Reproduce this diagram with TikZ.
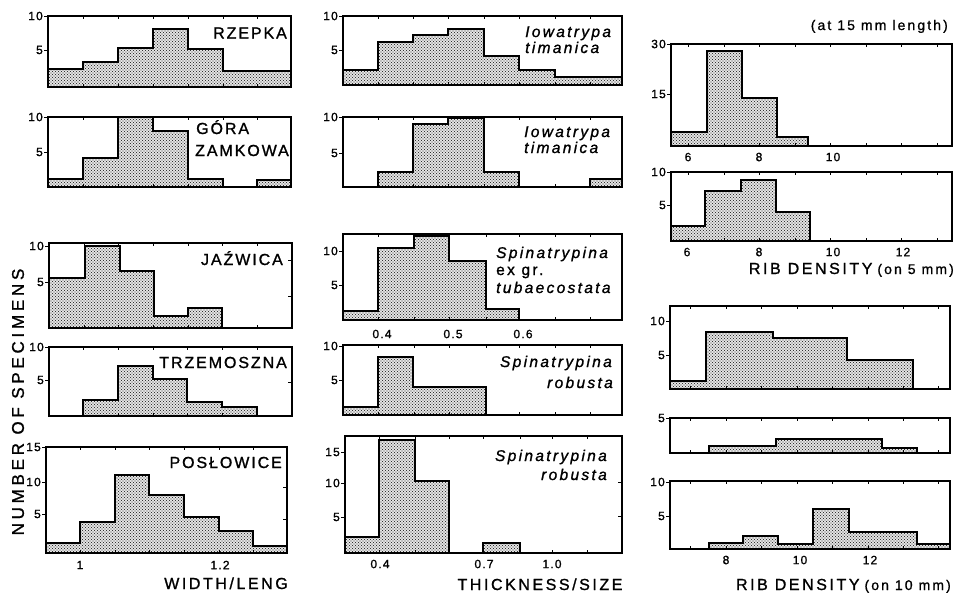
\documentclass[tikz,border=0pt]{standalone}
\usepackage{fontspec}
\setmainfont{Liberation Sans}
\newfontfamily\capfont[LetterSpace=12, FakeBold=1.2]{Liberation Sans}
\newfontfamily\axfont[LetterSpace=16, FakeBold=1.2]{Liberation Sans}
\newfontfamily\spfont[LetterSpace=15, FakeBold=1.2]{Liberation Sans}
\newfontfamily\smfont[LetterSpace=15, FakeBold=1]{Liberation Sans}
\newfontfamily\numfont[LetterSpace=10, FakeBold=1.2]{Liberation Sans}
\newfontfamily\nosfont[LetterSpace=22, FakeBold=1.2]{Liberation Sans}
\usetikzlibrary{patterns}
\pgfdeclarepatternformonly{fdots}{\pgfqpoint{-1pt}{-1pt}}{\pgfqpoint{2.5pt}{2.5pt}}{\pgfqpoint{3pt}{3pt}}{\pgfpathcircle{\pgfpointorigin}{0.6pt}\pgfpathcircle{\pgfqpoint{1.5pt}{1.5pt}}{0.6pt}\pgfusepath{fill}}
\tikzset{
  frame/.style={line width=1.2pt},
  barline/.style={line width=1.8pt, line join=miter},
  barbg/.style={fill=black!8},
  bardots/.style={pattern=fdots, pattern color=black!80},
  tck/.style={line width=0.9pt},
  numlbl/.style={font=\numfont\fontsize{12}{12}\selectfont, inner sep=0pt},
  caplbl/.style={font=\capfont\fontsize{16}{16}\selectfont, inner sep=0pt},
  axlbl/.style={font=\axfont\fontsize{16}{16}\selectfont, inner sep=0pt},
  splbl/.style={font=\spfont\itshape\fontsize{15.5}{15.5}\selectfont, inner sep=0pt},
  uplbl/.style={font=\spfont\fontsize{15.5}{15.5}\selectfont, inner sep=0pt},
  smlbl/.style={font=\smfont\fontsize{14}{14}\selectfont, inner sep=0pt},
}
\newcommand\histo[1]{\path[barbg] #1 -- cycle; \path[bardots] #1 -- cycle; \draw[barline] #1;}
\newcommand\ytick[4]{\draw[tck] (#1-4,#2) -- (#1,#2); \node[numlbl, anchor=east] (#4) at (#1-5,#2) {#3};}
\newcommand\rtick[2]{\draw[tck] (#1-4,#2) -- (#1,#2);}
\newcommand\xticks[3]{\foreach \t in {#3} {\draw[tck] (\t,#1) -- (\t,#1-3); \draw[tck] (\t,#2) -- (\t,#2+3);}}
\begin{document}
\begin{tikzpicture}[x=1pt,y=-1pt]
\useasboundingbox (0,0) rectangle (955,592);
\fill[white] (0,0) rectangle (955,592);

% ---------------- left column ----------------
% L1 RZEPKA
\histo{(48,87) |- (83,69) |- (118,62) |- (153,48) |- (188,29) |- (223,49) |- (291,71) -- (291,87)}
\draw[frame] (48,16) rectangle (291,87);
\xticks{87}{16}{83,118,153,188,223,257}
\ytick{48}{16}{10}{l1a}
\ytick{48}{50}{5}{l1b}
\node[caplbl, anchor=east] (rzepka) at (287,33) {RZEPKA};

% L2 GORA ZAMKOWA
\histo{(48,187) |- (83,179) |- (118,158) |- (153,117) |- (188,131) |- (223,179) |- (257,187) |- (291,180) -- (291,187)}
\draw[frame] (48,117) rectangle (291,187);
\xticks{187}{117}{83,118,153,188,223,257}
\ytick{48}{117}{10}{l2a}
\ytick{48}{152}{5}{l2b}
\node[caplbl, anchor=base west] (gora) at (196,134) {GÓRA};
\node[caplbl, anchor=base west] (zamkowa) at (195,156) {ZAMKOWA};

% L3 JAZWICA
\histo{(49,328) |- (85,278) |- (120,246) |- (154,271) |- (188,316) |- (222,308) -- (222,328)}
\draw[frame] (49,243) rectangle (292,328);
\xticks{328}{243}{84,118,153,188,222,257}
\ytick{49}{246}{10}{l3a}
\ytick{49}{282}{5}{l3b}
\rtick{292}{260}
\rtick{292}{296}
\node[caplbl, anchor=base east] (jazwica) at (283,265) {JAŹWICA};

% L4 TRZEMOSZNA
\histo{(83,416) |- (118,400) |- (153,366) |- (187,379) |- (222,402) |- (257,407) -- (257,416)}
\draw[frame] (49,347) rectangle (292,416);
\xticks{416}{347}{83,118,153,187,222,257}
\ytick{49}{347}{10}{l4a}
\ytick{49}{380}{5}{l4b}
\rtick{292}{382}
\node[caplbl, anchor=base east] (trzem) at (287,368) {TRZEMOSZNA};

% L5 POSLOWICE
\histo{(46,553) |- (80,543) |- (115,522) |- (149,475) |- (184,495) |- (219,517) |- (253,531) |- (287,546) -- (287,553)}
\draw[frame] (46,447) rectangle (287,553);
\xticks{553}{447}{80,115,149,184,219,253}
\ytick{46}{447}{15}{l5a}
\ytick{46}{482}{10}{l5b}
\ytick{46}{514}{5}{l5c}
\rtick{287}{487}
\rtick{287}{519}
\node[caplbl, anchor=base east] (poslow) at (282,468) {POSŁOWICE};
\node[numlbl] (l5x1) at (80,565) {1};
\node[numlbl] (l5x2) at (220,565) {1.2};
\node[axlbl, anchor=base] (wl) at (226,589) {WIDTH/LENG};

\node[rotate=90, font=\nosfont\fontsize{17}{17}\selectfont, inner sep=0pt] (nos) at (18,402) {NUMBER OF SPECIMENS};

% ---------------- middle column ----------------
% M1
\histo{(343,85) |- (378,70) |- (413,42) |- (448,35) |- (484,29) |- (519,56) |- (555,70) |- (622,77) -- (622,85)}
\draw[frame] (343,16) rectangle (622,85);
\xticks{85}{16}{378,413,448,484,519,555,590}
\ytick{343}{16}{10}{m1a}
\ytick{343}{50}{5}{m1b}
\node[splbl, anchor=base west] (iow1) at (525,37) {Iowatrypa};
\node[splbl, anchor=base west] (tim1) at (525,53) {timanica};

% M2
\histo{(378,187) |- (413,172) |- (448,124) |- (484,118) |- (519,172) |- (590,187) |- (622,179) -- (622,187)}
\draw[frame] (343,117) rectangle (622,187);
\xticks{187}{117}{378,413,448,484,519,555,590}
\ytick{343}{117}{10}{m2a}
\ytick{343}{153}{5}{m2b}
\node[splbl, anchor=base west] (iow2) at (524,137) {Iowatrypa};
\node[splbl, anchor=base west] (tim2) at (524,153) {timanica};

% M3
\histo{(343,320) |- (378,311) |- (414,248) |- (449,236) |- (486,261) |- (519,309) -- (519,320)}
\draw[frame] (343,234) rectangle (622,320);
\xticks{320}{234}{378,414,449,486,519,555,590}
\ytick{343}{251}{10}{m3a}
\ytick{343}{285}{5}{m3b}
\node[numlbl] (m3x1) at (382,334) {0.4};
\node[numlbl] (m3x2) at (453,334) {0.5};
\node[numlbl] (m3x3) at (523,334) {0.6};
\node[splbl, anchor=base west] (spi3) at (496,258) {Spinatrypina};
\node[uplbl, anchor=base west] (exgr) at (496,275) {ex gr.};
\node[splbl, anchor=base west] (tub) at (496,293) {tubaecostata};

% M4
\histo{(343,415) |- (378,407) |- (413,357) |- (486,387) -- (486,415)}
\draw[frame] (343,345) rectangle (622,415);
\xticks{415}{345}{378,414,449,486,519,555,590}
\ytick{343}{346}{10}{m4a}
\ytick{343}{380}{5}{m4b}
\node[splbl, anchor=base east] (spi4) at (612,367) {Spinatrypina};
\node[splbl, anchor=base east] (rob4) at (613,388) {robusta};

% M5
\histo{(345,553) |- (379,537) |- (415,440) |- (449,481) |- (483,553) |- (520,543) -- (520,553)}
\draw[frame] (345,436) rectangle (622,553);
\xticks{553}{436}{379,415,449,483,520,552,587}
\ytick{345}{452}{15}{m5a}
\ytick{345}{483}{10}{m5b}
\ytick{345}{517}{5}{m5c}
\rtick{622}{482}
\rtick{622}{516}
\node[numlbl] (m5x1) at (380,564) {0.4};
\node[numlbl] (m5x2) at (484,564) {0.7};
\node[numlbl] (m5x3) at (552,564) {1.0};
\node[splbl, anchor=base east] (spi5) at (607,461) {Spinatrypina};
\node[splbl, anchor=base east] (rob5) at (607,480) {robusta};
\node[axlbl, anchor=base] (ts) at (540,590) {THICKNESS/SIZE};

% ---------------- right column ----------------
\node[smlbl, anchor=base east] (at15) at (948,30) {(at 15 mm length)};

% R1
\histo{(671,146) |- (707,132) |- (742,51) |- (777,98) |- (808,137) -- (808,146)}
\draw[frame] (671,44) rectangle (952,146);
\xticks{146}{44}{688,724,759,795,830,866,901,937}
\ytick{671}{44}{30}{r1a}
\ytick{671}{94}{15}{r1b}
\node[numlbl] (r1x1) at (688,157) {6};
\node[numlbl] (r1x2) at (759,157) {8};
\node[numlbl] (r1x3) at (833,157) {10};

% R2
\histo{(671,241) |- (705,226) |- (741,191) |- (776,180) |- (810,212) -- (810,241)}
\draw[frame] (671,172) rectangle (952,241);
\xticks{241}{172}{688,724,759,795,830,866,901,937}
\ytick{671}{172}{10}{r2a}
\ytick{671}{205}{5}{r2b}
\node[numlbl] (r2x1) at (687,252) {6};
\node[numlbl] (r2x2) at (759,252) {8};
\node[numlbl] (r2x3) at (833,252) {10};
\node[numlbl] (r2x4) at (903,252) {12};
\node[anchor=base east, inner sep=0pt] (rd5) at (954,274) {{\axfont\fontsize{16}{16}\selectfont RIB DENSITY}\hspace{5pt}{\smfont\fontsize{14}{14}\selectfont (on 5 mm)}};

% R3
\histo{(670,389) |- (706,381) |- (773,332) |- (847,338) |- (913,360) -- (913,389)}
\draw[frame] (670,306) rectangle (950,389);
\xticks{389}{306}{690,726,761,797,832,868,903,938}
\ytick{670}{321}{10}{r3a}
\ytick{670}{355}{5}{r3b}

% R4
\histo{(709,453) |- (776,446) |- (882,439) |- (917,448) -- (917,453)}
\draw[frame] (670,418) rectangle (950,453);
\xticks{453}{418}{690,726,761,797,832,868,903,938}
\ytick{670}{418}{5}{r4a}

% R5
\histo{(709,549) |- (743,543) |- (778,536) |- (813,544) |- (849,509) |- (917,532) |- (950,544) -- (950,549)}
\draw[frame] (670,481) rectangle (950,549);
\xticks{549}{481}{690,726,761,797,832,868,903,938}
\ytick{670}{482}{10}{r5a}
\ytick{670}{516}{5}{r5b}
\node[numlbl] (r5x1) at (726,560) {8};
\node[numlbl] (r5x2) at (800,560) {10};
\node[numlbl] (r5x3) at (870,560) {12};
\node[anchor=base east, inner sep=0pt] (rd10) at (951,590) {{\axfont\fontsize{16}{16}\selectfont RIB DENSITY}\hspace{5pt}{\smfont\fontsize{14}{14}\selectfont (on 10 mm)}};
\end{tikzpicture}
\end{document}
